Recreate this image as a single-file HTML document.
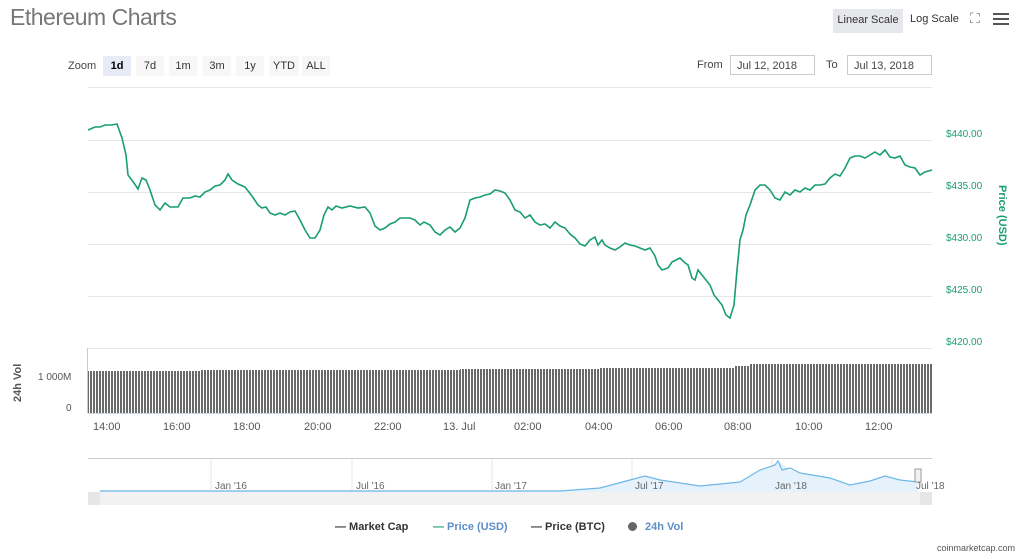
<!DOCTYPE html>
<html><head><style>
body{margin:0;width:1024px;height:560px;background:#fff;font-family:"Liberation Sans",sans-serif;position:relative;overflow:hidden}
.a{position:absolute}
.t{font-size:11px;color:#444}
.btn{position:absolute;top:56px;height:20px;line-height:20px;font-size:11px;color:#333;background:#f7f7f7;text-align:center}
.inp{position:absolute;top:55px;height:20px;border:1px solid #ccc;font-size:11px;color:#444;line-height:20px;padding-left:6px;box-sizing:border-box}
.g{position:absolute;left:88px;width:844px;height:1px;background:#e6e6e6}
.pl{position:absolute;left:946px;font-size:10px;color:#199e6e}
.xl{position:absolute;top:421px;font-size:11px;color:#555}
</style></head><body>
<div class="a" style="left:10px;top:4px;font-size:23px;color:#777;letter-spacing:-0.5px">Ethereum Charts</div>
<div class="a" style="left:833px;top:9px;width:70px;height:24px;background:#e6e7ea;font-size:11px;line-height:22px;text-align:center;color:#333">Linear Scale</div>
<div class="a" style="left:910px;top:13px;font-size:11px;color:#333">Log Scale</div>
<div class="a" style="left:970px;top:10px;font-size:14px;color:#777">⛶</div>
<div class="a" style="left:993px;top:13px;width:16px;height:2px;background:#555;box-shadow:0 5px 0 #555,0 10px 0 #555"></div>
<div class="a t" style="left:68px;top:60px">Zoom</div>
<div class="btn" style="left:103px;width:28px;background:#e6ebf5;font-weight:bold;color:#000">1d</div>
<div class="btn" style="left:136px;width:28px">7d</div>
<div class="btn" style="left:169px;width:28px">1m</div>
<div class="btn" style="left:203px;width:28px">3m</div>
<div class="btn" style="left:236px;width:28px">1y</div>
<div class="btn" style="left:269px;width:30px">YTD</div>
<div class="btn" style="left:302px;width:28px">ALL</div>
<div class="a t" style="left:697px;top:59px">From</div>
<div class="inp" style="left:730px;width:85px">Jul 12, 2018</div>
<div class="a t" style="left:826px;top:59px">To</div>
<div class="inp" style="left:847px;width:85px">Jul 13, 2018</div>
<div class="g" style="top:87px"></div>
<div class="g" style="top:140px"></div>
<div class="g" style="top:192px"></div>
<div class="g" style="top:244px"></div>
<div class="g" style="top:296px"></div>
<div class="g" style="top:348px"></div>
<div class="pl" style="top:129px">$440.00</div>
<div class="pl" style="top:181px">$435.00</div>
<div class="pl" style="top:233px">$430.00</div>
<div class="pl" style="top:285px">$425.00</div>
<div class="pl" style="top:337px">$420.00</div>
<div class="a" style="left:960px;top:210px;transform:rotate(90deg);transform-origin:0 0;font-size:11px;font-weight:bold;color:#199e6e;white-space:nowrap;left:1008px;top:185px">Price (USD)</div>
<svg class="a" style="left:0;top:0" width="1024" height="560">
<polyline fill="none" stroke="#199e6e" stroke-width="1.6" points="88,130 95,127 100,127 105,125 112,125 117,124 122,138 126,155 128,175 134,183 138,189 142,178 146,180 150,190 155,205 160,210 165,203 170,207 178,207 183,198 190,198 195,196 200,197 205,192 210,190 215,186 220,185 225,180 228,174 232,180 238,184 245,187 252,196 258,205 262,208 266,207 270,213 275,215 280,213 285,215 290,212 295,211 300,220 305,230 310,238 315,238 320,230 324,215 328,207 332,210 336,206 342,208 350,206 358,208 365,207 370,213 375,226 380,230 385,228 390,224 395,222 400,218 405,218 410,218 415,220 420,225 424,222 430,225 435,232 440,235 445,230 450,227 455,232 460,228 465,218 470,200 475,198 480,197 485,195 490,194 495,190 500,191 505,193 510,200 515,210 520,212 525,218 530,215 535,222 540,225 545,224 550,228 555,222 560,226 565,228 570,234 575,238 580,244 585,246 590,240 595,237 598,245 602,240 605,245 610,248 615,250 620,247 625,243 630,245 635,246 640,248 645,250 650,248 655,256 658,265 662,270 668,268 672,262 676,260 680,258 684,262 688,265 692,278 695,280 698,270 702,275 706,280 710,285 714,295 718,300 722,305 726,315 730,318 734,305 737,270 740,240 743,230 746,215 750,205 755,190 760,185 765,185 770,190 775,198 780,200 785,192 790,195 795,190 800,192 805,188 810,190 815,185 820,185 825,184 830,178 835,174 840,176 845,168 850,158 855,156 860,156 865,158 870,155 875,152 880,155 885,150 890,157 895,158 900,156 905,165 910,167 915,168 920,175 925,172 932,170"/>
<defs><pattern id="b" width="3" height="100" patternUnits="userSpaceOnUse"><rect width="2" height="100" fill="#6a6a6a"/></pattern></defs>
<path fill="url(#b)" d="M88,413 V371 H200 V370 H460 V369 H600 V368 H735 V366 H750 V364 H932 V413 Z"/>
<line x1="88" y1="413.5" x2="932" y2="413.5" stroke="#ccd6eb"/>
<line x1="87.5" y1="348" x2="87.5" y2="413" stroke="#ccc"/>
<line x1="88" y1="458.5" x2="932" y2="458.5" stroke="#ccc"/>
<g stroke="#e6e6e6"><line x1="211" y1="459" x2="211" y2="492"/><line x1="352" y1="459" x2="352" y2="492"/><line x1="492" y1="459" x2="492" y2="492"/><line x1="632" y1="459" x2="632" y2="492"/><line x1="772" y1="459" x2="772" y2="492"/></g>
<path d="M100,491 L560,491 L600,488 L630,480 L645,476 L660,480 L700,486 L740,482 L760,470 L775,465 L780,462 L790,470 L800,473 L830,478 L850,485 L870,481 L885,476 L900,480 L918,482 L918,492 L100,492 Z" fill="#e6f2fb" stroke="none"/>
<polyline fill="none" stroke="#6cb8e8" stroke-width="1.2" points="100,491 560,491 600,488 630,480 645,476 660,480 700,486 740,482 760,470 775,465 778,461 782,470 790,468 800,473 830,478 850,485 870,481 885,476 900,480 918,482"/>
<rect x="88" y="492" width="844" height="13" fill="#f2f2f2"/>
<rect x="88" y="492" width="12" height="13" fill="#e6e6e6"/><rect x="920" y="492" width="12" height="13" fill="#e6e6e6"/>
<rect x="915" y="469" width="6" height="13" fill="#f2f2f2" stroke="#999"/>
</svg>
<div class="a" style="left:12px;top:402px;transform:rotate(-90deg);transform-origin:0 0;font-size:11px;font-weight:bold;color:#555;white-space:nowrap">24h Vol</div>
<div class="a" style="left:38px;top:372px;font-size:10px;color:#555">1 000M</div>
<div class="a" style="left:66px;top:403px;font-size:10px;color:#555">0</div>
<div class="xl" style="left:93px">14:00</div><div class="xl" style="left:163px">16:00</div><div class="xl" style="left:233px">18:00</div><div class="xl" style="left:304px">20:00</div><div class="xl" style="left:374px">22:00</div><div class="xl" style="left:443px">13. Jul</div><div class="xl" style="left:514px">02:00</div><div class="xl" style="left:585px">04:00</div><div class="xl" style="left:655px">06:00</div><div class="xl" style="left:724px">08:00</div><div class="xl" style="left:795px">10:00</div><div class="xl" style="left:865px">12:00</div>
<div class="a" style="left:215px;top:481px;font-size:10px;color:#666">Jan '16</div>
<div class="a" style="left:356px;top:481px;font-size:10px;color:#666">Jul '16</div>
<div class="a" style="left:495px;top:481px;font-size:10px;color:#666">Jan '17</div>
<div class="a" style="left:635px;top:481px;font-size:10px;color:#666">Jul '17</div>
<div class="a" style="left:775px;top:481px;font-size:10px;color:#666">Jan '18</div>
<div class="a" style="left:916px;top:481px;font-size:10px;color:#666">Jul '18</div>
<div class="a" style="left:335px;top:521px;font-size:11px;font-weight:bold;color:#333">&#8212; Market Cap</div>
<div class="a" style="left:433px;top:521px;font-size:11px;font-weight:bold;color:#5c8fc7"><span style="color:#199e6e">&#8212;</span> Price (USD)</div>
<div class="a" style="left:531px;top:521px;font-size:11px;font-weight:bold;color:#333">&#8212; Price (BTC)</div>
<div class="a" style="left:628px;top:522px;width:9px;height:9px;border-radius:50%;background:#666"></div>
<div class="a" style="left:645px;top:521px;font-size:11px;font-weight:bold;color:#5c8fc7">24h Vol</div>
<div class="a" style="left:937px;top:543px;font-size:9px;color:#555">coinmarketcap.com</div>
</body></html>
